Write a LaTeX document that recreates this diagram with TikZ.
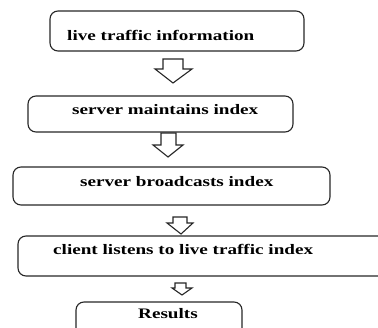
\documentclass[tikz,border=0pt]{standalone}
\usepackage{fontspec}
\setmainfont{Liberation Serif}[FakeStretch=1.32]
\begin{document}
\begin{tikzpicture}[x=1pt,y=-1pt,
  boxstyle/.style={draw=black!85,line width=1.1pt,rounded corners=8pt},
  arrowstyle/.style={draw=black!85,line width=1.1pt,fill=white,line join=miter},
  lbl/.style={anchor=base west,inner sep=0pt,font=\fontsize{14.5}{17}\selectfont\bfseries}]
\useasboundingbox (0,0) rectangle (378,328);
\clip (0,0) rectangle (378,328);
% boxes
\draw[boxstyle] (50,11) rectangle (304,51);
\draw[boxstyle] (28,96) rectangle (293,132);
\draw[boxstyle] (13,167) rectangle (330,205);
\draw[boxstyle] (18,236) rectangle (400,276);
\draw[boxstyle] (76,302) rectangle (242,350);
% texts
\node[lbl] (t1) at (67,41) {live traffic information};
\node[lbl] (t2) at (72,115) {server maintains index};
\node[lbl] (t3) at (80,187) {server broadcasts index};
\node[lbl] (t4) at (53,255) {client listens to live traffic index};
\node[lbl] (t5) at (138,319) {Results};
% block arrows
\draw[arrowstyle] (163,59) -- (163,69) -- (155,69) -- (173,83) -- (192,69) -- (183,69) -- (183,59) -- cycle;
\draw[arrowstyle] (161,133) -- (161,145) -- (153,145) -- (168,157) -- (183,145) -- (176,145) -- (176,133) -- cycle;
\draw[arrowstyle] (173,217) -- (173,223) -- (167,223) -- (181,234) -- (193,223) -- (187,223) -- (187,217) -- cycle;
\draw[arrowstyle] (175,283) -- (175,288) -- (172,288) -- (182,295) -- (192,288) -- (186,288) -- (186,283) -- cycle;
\end{tikzpicture}
\end{document}
